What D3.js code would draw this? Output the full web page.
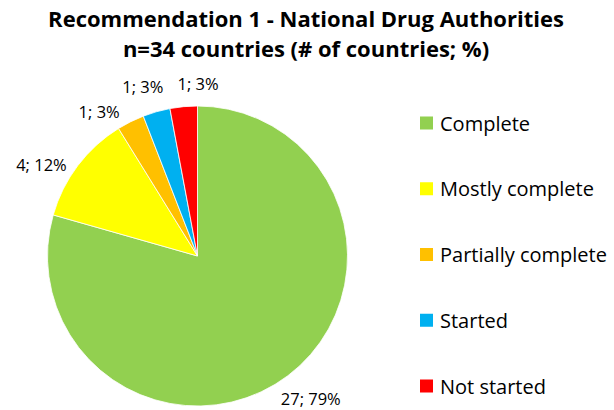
<!DOCTYPE html>
<html><head><meta charset="utf-8">
<script src="https://cdn.jsdelivr.net/npm/d3@7"></script>
<style>body{margin:0;background:#fff}svg{display:block}text{font-family:"Open Sans","Noto Sans",sans-serif;fill:#000}</style>
</head><body><div id="chart"></div>
<script>
const categories = ["Complete","Mostly complete","Partially complete","Started","Not started"];
const counts = [27,4,1,1,1];
const percents = [79,12,3,3,3];
const colors = ["#92D050","#FFFF00","#FFC000","#00B0F0","#FF0000"];
const titleLines = ["Recommendation 1 - National Drug Authorities","n=34 countries (# of countries; %)"];

const W=614,H=410;
const svg=d3.select("#chart").append("svg").attr("width",W).attr("height",H);
svg.selectAll("text.title").data(titleLines).join("text").attr("class","title")
  .attr("x",306).attr("y",(d,i)=>27+i*30).attr("text-anchor","middle")
  .attr("font-size",22).attr("font-weight","bold").text(d=>d);

const cx=197.5, cy=256, r=150;
const data=categories.map((c,i)=>({c,v:counts[i],p:percents[i],col:colors[i]}));
const pie=d3.pie().value(d=>d.v).sort(null);
const arcs=pie(data);
const arc=d3.arc().innerRadius(0).outerRadius(r);
const g=svg.append("g").attr("transform",`translate(${cx},${cy})`);
g.selectAll("path").data(arcs).join("path").attr("d",arc)
  .attr("fill",d=>d.data.col).attr("stroke","#fff").attr("stroke-width",0.8);

const lr=178;
const nudge=[[6,0],[-14,16],[-19,15],[-6,2],[17,5]];
g.selectAll("text.lbl").data(arcs).join("text").attr("class","lbl")
  .attr("x",(d,i)=>Math.sin((d.startAngle+d.endAngle)/2)*lr+nudge[i][0])
  .attr("y",(d,i)=>-Math.cos((d.startAngle+d.endAngle)/2)*lr+nudge[i][1])
  .attr("text-anchor","middle").attr("dominant-baseline","central")
  .attr("font-size",16.5).text(d=>`${d.data.v}; ${d.data.p}%`);

const lg=svg.append("g");
const ly=d3.scalePoint().domain(categories).range([123,386]);
const items=lg.selectAll("g").data(data).join("g").attr("transform",d=>`translate(420,${ly(d.c)})`);
items.append("rect").attr("x",0).attr("y",-6.5).attr("width",13).attr("height",13).attr("fill",d=>d.col);
items.append("text").attr("x",20).attr("y",0).attr("dominant-baseline","central").attr("font-size",20).text(d=>d.c);
</script></body></html>
